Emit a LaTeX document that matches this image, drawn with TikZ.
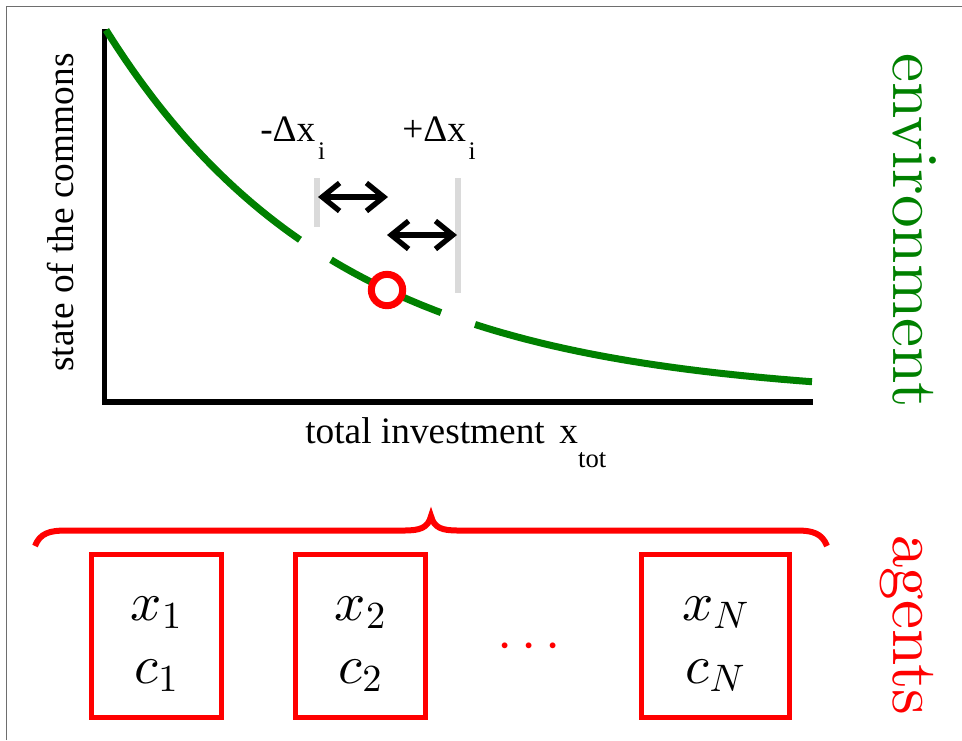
\documentclass[tikz,border=0pt]{standalone}
\usepackage[no-math]{fontspec}
\newfontfamily\timesfont{Liberation Serif}
\newfontfamily\lmten{lmroman10-regular}[Extension=.otf]
\DeclareFontFamily{OML}{mymi}{\skewchar\font=127}
\DeclareFontShape{OML}{mymi}{m}{it}{<->cmmi10}{}
\DeclareFontFamily{OT1}{mycmr}{}
\DeclareFontShape{OT1}{mycmr}{m}{n}{<->cmr10}{}
\DeclareFontFamily{OMS}{mysy}{\skewchar\font=48}
\DeclareFontShape{OMS}{mysy}{m}{n}{<->cmsy10}{}
\DeclareSymbolFont{letters}{OML}{mymi}{m}{it}
\DeclareSymbolFont{operators}{OT1}{mycmr}{m}{n}
\DeclareSymbolFont{symbols}{OMS}{mysy}{m}{n}
\usetikzlibrary{arrows.meta}
\definecolor{envgreen}{RGB}{0,128,0}
\definecolor{barg}{RGB}{218,218,218}
\definecolor{framegray}{RGB}{110,110,110}
\begin{document}
\begin{tikzpicture}[x=0.75pt,y=-0.75pt,
  frameline/.style={framegray,line width=1.2pt},
  curve/.style={envgreen,line width=5.25pt},
  axisline/.style={black,line width=4pt},
  guidebar/.style={barg,line width=4.5pt},
  dbl/.style={black,line width=4pt,{Straight Barb[length=13pt,width=21pt]}-{Straight Barb[length=13pt,width=21pt]}},
  agent/.style={draw=red,line width=3.75pt,minimum height=122.25pt,inner sep=0pt},
  mathlbl/.style={anchor=base,inner sep=0pt,font=\fontsize{41}{46}\selectfont},
  txt/.style={inner sep=0pt,font=\timesfont\fontsize{28}{30}\selectfont},
  bigside/.style={inner sep=0pt,anchor=base west,rotate=-90,font=\lmten\fontsize{49}{51}\selectfont}
]
\useasboundingbox (0,0) rectangle (962,740);
% frame
\draw[frameline] (6.5,740) -- (6.5,6.5) -- (962,6.5);
% guide bars
\coordinate (g1t) at (316.5,178); \coordinate (g1b) at (316.5,227);
\coordinate (g2t) at (458,178); \coordinate (g2b) at (458,293);
\draw[guidebar] (g1t) -- (g1b);
\draw[guidebar] (g2t) -- (g2b);
% axes
\coordinate (ytop) at (104.5,29);
\coordinate (orig) at (104.5,402);
\coordinate (xend) at (812.5,402);
\draw[axisline] (ytop) -- (orig) -- (xend);
% curve segments
\draw[curve] plot[domain=106:300,samples=60] (\x,{399-369*exp(-0.00434*(\x-106))});
\draw[curve] plot[domain=331:441,samples=40] (\x,{399-369*exp(-0.00434*(\x-106))});
\draw[curve] plot[domain=475:812,samples=80] (\x,{399-369*exp(-0.00434*(\x-106))});
% red circle
\node[draw=red,fill=white,circle,line width=5.25pt,minimum size=23.5pt,inner sep=0pt] (pt) at (387,290) {};
% arrows
\coordinate (a1l) at (318,197); \coordinate (a1r) at (388,197);
\coordinate (a2l) at (387,235); \coordinate (a2r) at (457,235);
\draw[dbl] (a1l) -- (a1r);
\draw[dbl] (a2l) -- (a2r);
% labels
\node[txt,anchor=base west] (lminus) at (260,141) {-Δx\hspace{2pt}\raisebox{-14pt}{\fontsize{19}{20}\selectfont i}};
\node[txt,anchor=base west] (lplus) at (402,141) {+Δx\hspace{2pt}\raisebox{-14pt}{\fontsize{19}{20}\selectfont i}};
\node[txt,anchor=base west] (xlab) at (305,443) {total investment\hspace{11pt}x\raisebox{-18pt}{\fontsize{20}{22}\selectfont tot}};
\node[txt,anchor=base west,rotate=90] (ylab) at (73,372) {state of the commons};
\node[bigside,envgreen] (env) at (893,53) {environment};
\node[bigside,red] (ag) at (893,535) {agents};
% brace
\draw[red,line width=4.5pt] (35,546) .. controls (40,533) and (50,530.5) .. (66,530.5)
  -- (404,530.5) .. controls (420,530.5) and (428,528) .. (431,516)
  .. controls (434,528) and (442,530.5) .. (458,530.5)
  -- (797,530.5) .. controls (812,530.5) and (822,533) .. (827,546);
% agent boxes
\node[agent,minimum width=97.5pt] (b1) at (156.5,636) {};
\node[agent,minimum width=97.5pt] (b2) at (360.5,636) {};
\node[agent,minimum width=111pt] (bN) at (715.5,636) {};
\node[mathlbl] (x1) at (156.5,620) {$x_1$};
\node[mathlbl] (c1) at (156.5,683) {$c_1$};
\node[mathlbl] (x2) at (360.5,620) {$x_2$};
\node[mathlbl] (c2) at (360.5,683) {$c_2$};
\node[mathlbl] (xN) at (715.5,620) {$x_N$};
\node[mathlbl] (cN) at (715.5,683) {$c_N$};
\node[mathlbl,red] (dots) at (529,659) {$\cdots$};
\end{tikzpicture}
\end{document}
